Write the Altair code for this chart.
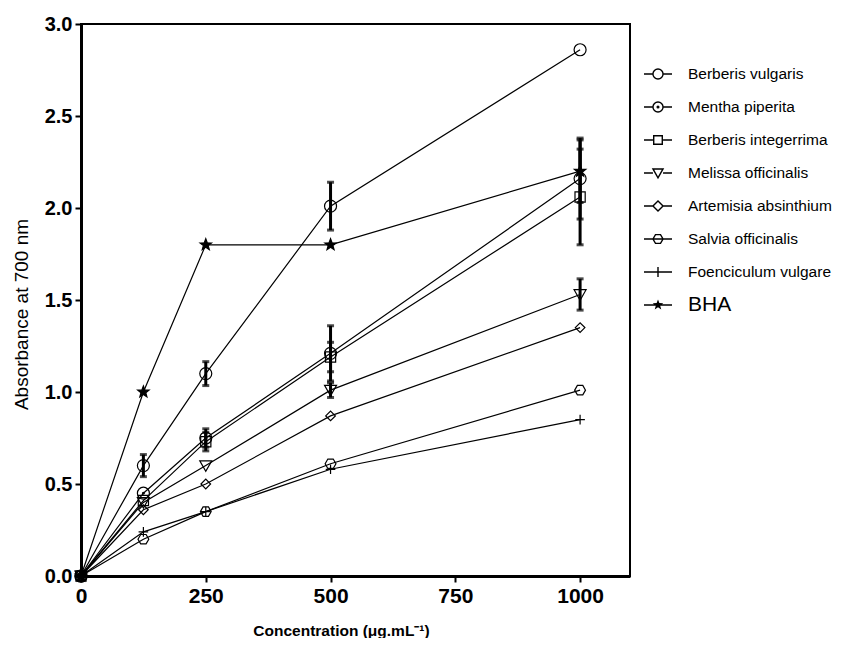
import math
import altair as alt
import pandas as pd

conc = [0, 125, 250, 500, 1000]
series = ["Berberis vulgaris", "Mentha piperita", "Berberis integerrima",
          "Melissa officinalis", "Artemisia absinthium", "Salvia officinalis",
          "Foenciculum vulgare", "BHA"]

bv = [0, 0.60, 1.10, 2.01, 2.86]
mp = [0, 0.45, 0.75, 1.21, 2.16]
bi = [0, 0.41, 0.73, 1.19, 2.06]
mo = [0, 0.40, 0.60, 1.01, 1.53]
aa = [0, 0.36, 0.50, 0.87, 1.35]
so = [0, 0.20, 0.35, 0.61, 1.01]
fv = [0, 0.24, 0.35, 0.58, 0.85]
bha = [0, 1.00, 1.80, 1.80, 2.20]

bv_err = [0, 0.06, 0.065, 0.13, 0]
mp_err = [0, 0, 0.05, 0.15, 0.22]
bi_err = [0, 0, 0.05, 0.08, 0.26]
mo_err = [0, 0, 0, 0.04, 0.085]
aa_err = [0, 0, 0, 0, 0]
so_err = [0, 0, 0, 0, 0]
fv_err = [0, 0, 0, 0, 0]
bha_err = [0, 0, 0, 0, 0.17]

values = [bv, mp, bi, mo, aa, so, fv, bha]
errors = [bv_err, mp_err, bi_err, mo_err, aa_err, so_err, fv_err, bha_err]

rows, err_rows, cap_rows = [], [], []
for s, vals, errs in zip(series, values, errors):
    for x, v, e in zip(conc, vals, errs):
        rows.append({"series": s, "conc": x, "abs": v})
        if e > 0:
            err_rows.append({"series": s, "conc": x, "lo": v - e, "hi": v + e})
            cap_rows.append({"series": s, "conc": x, "y": v - e})
            cap_rows.append({"series": s, "conc": x, "y": v + e})
df = pd.DataFrame(rows)
edf = pd.DataFrame(err_rows)
cdf = pd.DataFrame(cap_rows)


def f(v):
    return f"{v:.3f}"


def circle(r):
    return f"M{f(-r)},0A{f(r)},{f(r)} 0 1,0 {f(r)},0A{f(r)},{f(r)} 0 1,0 {f(-r)},0Z"


def square(r):
    return f"M{f(-r)},{f(-r)}L{f(r)},{f(-r)}L{f(r)},{f(r)}L{f(-r)},{f(r)}Z"


def tri_down(r):
    return f"M{f(-r)},{f(-0.8*r)}L{f(r)},{f(-0.8*r)}L0,{f(0.95*r)}Z"


def diamond(r):
    return f"M{f(-r)},0L0,{f(-r)}L{f(r)},0L0,{f(r)}Z"


def hexagon(r):
    return (f"M{f(-r)},0L{f(-r/2)},{f(-0.87*r)}L{f(r/2)},{f(-0.87*r)}L{f(r)},0"
            f"L{f(r/2)},{f(0.87*r)}L{f(-r/2)},{f(0.87*r)}Z")


def plus(r):
    return f"M{f(-r)},0L{f(r)},0M0,{f(-r)}L0,{f(r)}"


def star(r):
    pts = []
    for i in range(10):
        rad = r if i % 2 == 0 else r * 0.42
        a = -math.pi / 2 + i * math.pi / 5
        pts.append(f"{f(rad*math.cos(a))},{f(rad*math.sin(a))}")
    return "M" + "L".join(pts) + "Z"


def side_lines(r):
    return f"M-1,0L{f(-r)},0M{f(r)},0L1,0"


def bar_line(h):
    return f"M-1,{f(-h)}L1,{f(-h)}L1,{f(h)}L-1,{f(h)}Z"


plot_shapes = [circle(1.0), circle(1.0) + circle(0.15), square(0.85), tri_down(1.0),
               diamond(0.8), hexagon(0.9), plus(0.8), star(1.0)]
lr = 0.36
legend_shapes = [side_lines(lr) + circle(lr),
                 side_lines(lr) + circle(lr) + circle(0.06),
                 side_lines(lr) + square(lr * 0.85),
                 side_lines(lr) + tri_down(lr),
                 side_lines(lr) + diamond(lr),
                 "M-1,0L1,0" + hexagon(lr),
                 "M-1,0L1,0" + plus(lr),
                 bar_line(0.045) + star(lr * 1.1)]

FONT = "Liberation Sans"

x_enc = alt.X("conc:Q", scale=alt.Scale(domain=[0, 1100], nice=False, zero=True),
              axis=alt.Axis(values=[0, 250, 500, 750, 1000], format="d", labelFlush=False,
                            labelFontSize=21, titleFontWeight="bold", titleFontSize=15.5,
                            titleX=260, title="Concentration (μg.mL⁻¹)", titlePadding=17))
y_enc = alt.Y("abs:Q", scale=alt.Scale(domain=[0, 3], nice=False),
              axis=alt.Axis(values=[0, 0.5, 1.0, 1.5, 2.0, 2.5, 3.0], format=".1f",
                            labelFontSize=20, titleFontWeight="normal", titleFontSize=19,
                            titleY=290, title="Absorbance at 700 nm", titlePadding=13))

lines = alt.Chart(df).mark_line(color="black", strokeWidth=1.2).encode(
    x=x_enc, y=y_enc, detail="series:N")

bars = alt.Chart(edf).mark_rule(color="black", strokeWidth=3).encode(
    x="conc:Q", y="lo:Q", y2="hi:Q")

caps = alt.Chart(cdf).mark_tick(color="black", orient="horizontal", size=7, thickness=3).encode(
    x="conc:Q", y="y:Q")

points = alt.Chart(df).mark_point(filled=False, opacity=1, size=144, strokeWidth=1.2).encode(
    x="conc:Q", y="abs:Q",
    shape=alt.Shape("series:N", scale=alt.Scale(domain=series, range=plot_shapes), legend=None),
    fill=alt.condition(alt.datum.series == "BHA", alt.value("black"), alt.value("transparent")),
    stroke=alt.value("black"),
)

leg_common = dict(title=None, orient="none", padding=0, symbolSize=784,
                  symbolStrokeWidth=1.4, symbolStrokeColor="black", symbolOpacity=1,
                  labelFont=FONT, labelColor="black", labelOffset=15, labelLimit=300,
                  rowPadding=9)

legend_a = alt.Chart(df).transform_filter("false").mark_point(
    filled=False, opacity=1, color="black", strokeWidth=1.4).encode(
    x="conc:Q", y="abs:Q",
    shape=alt.Shape("series:N", sort=series[:-1],
                    scale=alt.Scale(domain=series[:-1], range=legend_shapes[:-1]),
                    legend=alt.Legend(legendX=562, legendY=35, labelFontSize=15.5,
                                      symbolFillColor="transparent", **leg_common)),
)

legend_b = alt.Chart(df).transform_filter("false").mark_point(
    filled=False, opacity=1, fill="black", stroke="black", strokeWidth=1.4).encode(
    x="conc:Q", y="abs:Q",
    shape=alt.Shape("series:N",
                    scale=alt.Scale(domain=series[-1:], range=legend_shapes[-1:]),
                    legend=alt.Legend(legendX=562, legendY=266, labelFontSize=21,
                                      symbolFillColor="black", **leg_common)),
)

chart = alt.layer(lines, bars, caps, points, legend_a, legend_b).resolve_scale(
    shape="independent").resolve_legend(shape="independent").properties(
    width=549, height=552,
    autosize=alt.AutoSizeParams(type="none"),
    padding={"left": 73, "top": 16, "right": 223, "bottom": 62},
).configure_view(stroke="black", strokeWidth=2).configure_axis(
    grid=False, domainColor="black", domainWidth=3, tickColor="black", tickWidth=2,
    tickSize=6, labelFont=FONT, labelFontWeight="bold",
    labelColor="black", labelPadding=3, titleFont=FONT, titleColor="black",
)

chart.save("out.html", embed_options={"renderer": "svg", "actions": False})
